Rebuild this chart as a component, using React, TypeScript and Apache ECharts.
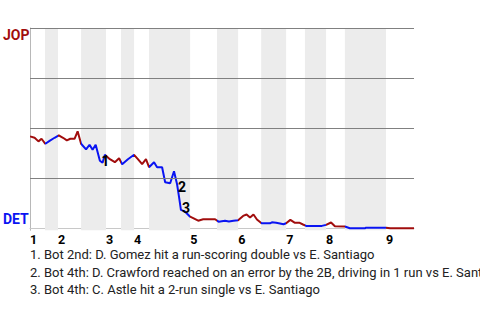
import React, { useEffect, useRef } from "react";
import * as echarts from "echarts";

// Teams
const awayTeam = "JOP";
const homeTeam = "DET";

// Innings and half-inning starts (game progress units, 0..100)
const inningLabels = ["1", "2", "3", "4", "5", "6", "7", "8", "9"];
const halfInningStarts = [0, 3.9, 7.3, 13.3, 19.8, 23.7, 27.1, 31.0, 41.7, 48.7, 54.2, 60.2, 66.7, 71.6, 77.1, 82.0, 92.7];
const gameEnd = 100;

// Win probability line: game progress and JOP win %
const progress = [
  0, 1.2, 2.2, 3.0, 4.0, 5.2, 6.4, 7.5, 8.6, 9.6, 10.5, 11.6, 12.4, 13.3, 14.6, 15.5, 16.3, 17.1, 18.2, 18.9,
  19.5, 20.8, 22.1, 23.2, 24.0, 25.5, 27.1, 28.1, 29.2, 30.2, 31.0, 32.3, 33.1, 34.4, 35.2, 36.5, 37.5, 38.3, 38.8, 39.3,
  40.4, 41.7, 43.8, 45.1, 48.2, 49.1, 50.8, 51.8, 53.0, 54.2, 55.5, 56.4, 57.3, 58.2, 59.1, 60.3, 62.5, 63.0, 64.1, 65.1,
  66.0, 66.7, 67.8, 68.9, 70.1, 71.1, 71.9, 76.0, 77.1, 78.4, 79.4, 82.0, 83.3, 87.2, 87.5, 92.7, 93.8, 100,
];
const awayWinPct = [
  45.9, 45.2, 43.4, 44.7, 42.2, 43.8, 45.2, 46.4, 45.2, 43.9, 44.7, 44.7, 48.4, 42.2, 39.4, 41.7, 39.2, 41.7, 33.7, 32.7,
  36.7, 34.5, 33.0, 35.0, 32.0, 34.5, 36.7, 34.5, 32.0, 34.5, 30.5, 33.0, 30.5, 30.5, 23.0, 22.5, 28.5, 22.0, 15.8, 9.2,
  8.3, 5.8, 3.8, 4.5, 4.5, 3.3, 3.8, 3.4, 3.8, 4.0, 6.2, 6.9, 5.4, 6.9, 4.4, 2.5, 2.5, 3.0, 2.8, 2.4,
  2.0, 2.5, 4.2, 2.8, 2.8, 1.9, 1.2, 1.2, 1.7, 2.9, 1.0, 0.9, 0, 0, 0.3, 0.3, 0, 0,
];

// Key events
const eventIds = ["1", "2", "3"];
const eventX = [19.6, 39.6, 40.6];
const eventY = [33.5, 20.7, 10.3];
const eventNotes = [
  "1. Bot 2nd: D. Gomez hit a run-scoring double vs E. Santiago",
  "2. Bot 4th: D. Crawford reached on an error by the 2B, driving in 1 run vs E. Santiago",
  "3. Bot 4th: C. Astle hit a 2-run single vs E. Santiago",
];

// Gridline values
const gridValues = [25, 50, 75, 100];

const RED = "#a10d0d";
const BLUE = "#0a14f2";
const FONT = "Roboto";

export default function App() {
  const ref = useRef<HTMLDivElement>(null);

  useEffect(() => {
    if (!ref.current) return;
    const chart = echarts.init(ref.current, null, { renderer: "svg" });

    const inningStarts = halfInningStarts.filter((_, i) => i % 2 === 0);
    const pieces = halfInningStarts.map((s, i) => ({
      gte: s,
      lt: i + 1 < halfInningStarts.length ? halfInningStarts[i + 1] : gameEnd + 10,
      color: i % 2 === 0 ? RED : BLUE,
    }));
    const bands: any[] = [];
    halfInningStarts.forEach((s, i) => {
      if (i % 2 === 1) {
        const e = i + 1 < halfInningStarts.length ? halfInningStarts[i + 1] : gameEnd;
        bands.push([{ xAxis: s }, { xAxis: e }]);
      }
    });

    const lineData = progress.map((x, i) => [x, awayWinPct[i]]);

    const baseGraphics: any[] = [
      {
        type: "text",
        left: 3,
        top: 28,
        style: { text: awayTeam, fill: RED, font: `bold 14px ${FONT}` },
      },
      {
        type: "text",
        left: 3,
        top: 212,
        style: { text: homeTeam, fill: BLUE, font: `bold 14px ${FONT}` },
      },
      ...eventNotes.map((t, i) => ({
        type: "text",
        x: 30,
        y: 254.5 + i * 17.5,
        style: {
          text: t,
          fill: "#222",
          font: `13px ${FONT}`,
          textVerticalAlign: "middle",
        },
      })),
    ];

    chart.setOption({
      animation: false,
      grid: { left: 30, right: 66, top: 28, bottom: 89.7 },
      xAxis: {
        type: "value",
        min: 0,
        max: gameEnd,
        axisLine: { show: true, lineStyle: { color: "#c8c8c8", width: 1 } },
        axisTick: { show: false },
        splitLine: { show: false },
        axisLabel: {
          customValues: inningStarts,
          formatter: (v: number) => {
            const idx = inningStarts.findIndex((s) => Math.abs(s - v) < 1e-6);
            return idx >= 0 ? inningLabels[idx] : "";
          },
          align: "left",
          margin: 3,
          color: "#000",
          fontFamily: FONT,
          fontWeight: "bold",
          fontSize: 12.5,
        },
      },
      yAxis: {
        type: "value",
        min: -1,
        max: 100,
        axisLine: { show: true, lineStyle: { color: "#b8b8b8", width: 1 } },
        axisTick: { show: false },
        axisLabel: { show: false },
        splitLine: { show: false },
      },
      visualMap: {
        type: "piecewise",
        show: false,
        dimension: 0,
        seriesIndex: 2,
        pieces,
      },
      series: [
        {
          type: "line",
          data: [],
          z: 1,
          silent: true,
          markArea: {
            silent: true,
            itemStyle: { color: "#ececec" },
            data: bands,
          },
        },
        {
          type: "line",
          data: [],
          z: 2,
          silent: true,
          markLine: {
            silent: true,
            symbol: ["none", "none"],
            label: { show: false },
            lineStyle: { color: "#808080", type: "solid", width: 1 },
            data: gridValues.map((v) => ({ yAxis: v })),
          },
        },
        {
          type: "line",
          data: lineData,
          z: 3,
          showSymbol: false,
          symbol: "none",
          lineStyle: { width: 2 },
        },
      ],
      graphic: baseGraphics,
    });

    // Event number labels positioned through the chart's own scales
    const eventGraphics = eventIds.map((id, i) => {
      const [px, py] = chart.convertToPixel({ gridIndex: 0 }, [eventX[i], eventY[i]]) as number[];
      return {
        type: "text",
        x: px,
        y: py,
        z: 100,
        style: {
          text: id,
          fill: "#000",
          font: `bold 14px ${FONT}`,
          textAlign: "center",
          textVerticalAlign: "middle",
        },
      };
    });
    chart.setOption({ graphic: [...baseGraphics, ...eventGraphics] });

    return () => chart.dispose();
  }, []);

  return (
    <div style={{ position: "fixed", left: 0, top: 0, width: 480, height: 320, background: "#fff" }}>
      <div ref={ref} style={{ width: 480, height: 320 }} />
    </div>
  );
}
